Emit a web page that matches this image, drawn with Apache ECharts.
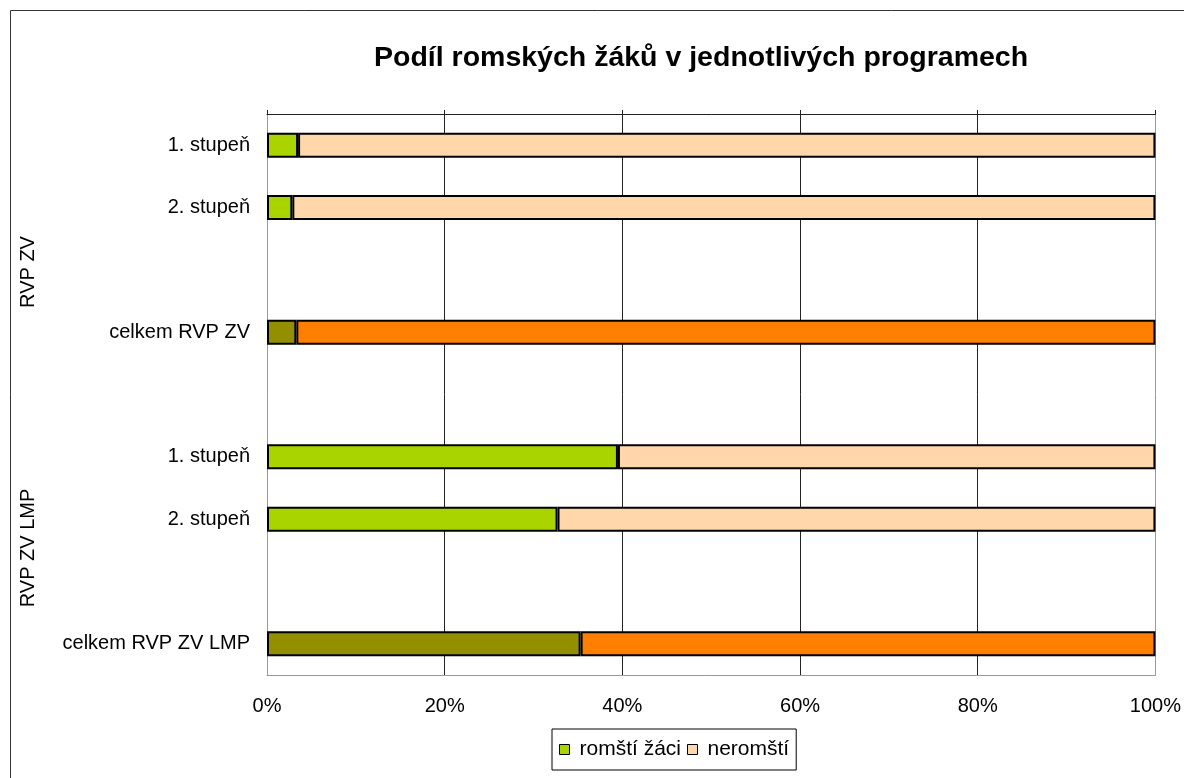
<!DOCTYPE html>
<html>
<head>
<meta charset="utf-8">
<title>Podíl romských žáků</title>
<script src="https://cdn.jsdelivr.net/npm/echarts@6/dist/echarts.min.js"></script>
<style>
  html, body { margin: 0; padding: 0; background: #fff; }
  #chart { width: 1184px; height: 778px; }
</style>
</head>
<body>
<div id="chart"></div>
<script>
  // rows top to bottom, '' = empty spacer row
  var categories = ['1. stupeň', '2. stupeň', '', 'celkem RVP ZV', '', '1. stupeň', '2. stupeň', '', 'celkem RVP ZV LMP'];
  var romsti   = [3.5, 2.85, '-', 3.3, '-', 39.5, 32.7, '-', 35.3];
  var neromsti = [96.5, 97.15, '-', 96.7, '-', 60.5, 67.3, '-', 64.7];
  var xTicks = [0, 20, 40, 60, 80, 100];
  var groupLabels = ['RVP ZV', 'RVP ZV LMP'];
  var seriesNames = ['romští žáci', 'neromští'];

  var FONT = "'Liberation Sans', Arial, sans-serif";
  var chart = echarts.init(document.getElementById('chart'));

  function coloured(values, normal, total) {
    return values.map(function (v, i) {
      var isTotal = categories[i].indexOf('celkem') === 0;
      return { value: v, itemStyle: { color: isTotal ? total : normal } };
    });
  }

  var option = {
    animation: false,
    backgroundColor: '#fff',
    textStyle: { fontFamily: FONT },
    title: {
      text: 'Podíl romských žáků v jednotlivých programech',
      left: 374,
      top: 44,
      padding: 0,
      textStyle: { fontFamily: FONT, fontSize: 28.5, fontWeight: 'bold', color: '#000' }
    },
    legend: {
      data: seriesNames,
      left: 552,
      top: 729,
      padding: [10, 7],
      borderColor: '#000',
      borderWidth: 1,
      itemWidth: 10,
      itemHeight: 10,
      itemGap: 6,
      icon: 'rect',
      itemStyle: { borderColor: '#000', borderWidth: 1 },
      textStyle: { fontFamily: FONT, fontSize: 21, color: '#000', padding: [0, 0, 0, 5] }
    },
    grid: { left: 267, right: 28, top: 114, bottom: 103 },
    xAxis: [
      {
        type: 'value',
        min: xTicks[0],
        max: xTicks[xTicks.length - 1],
        interval: xTicks[1] - xTicks[0],
        axisLine: { show: true, lineStyle: { color: '#999', width: 1 } },
        axisTick: { show: false },
        axisLabel: { margin: 21, fontSize: 20, color: '#000', fontFamily: FONT, formatter: '{value}%' },
        splitLine: { show: true, lineStyle: { color: ['#999', '#222', '#222', '#222', '#222', '#999'], width: 1 } }
      },
      {
        type: 'value',
        position: 'top',
        min: xTicks[0],
        max: xTicks[xTicks.length - 1],
        interval: xTicks[1] - xTicks[0],
        axisLine: { show: true, lineStyle: { color: '#222', width: 1 } },
        axisTick: { show: true, length: 4, lineStyle: { color: '#222' } },
        axisLabel: { show: false },
        splitLine: { show: false }
      }
    ],
    yAxis: {
      type: 'category',
      inverse: true,
      data: categories,
      axisLine: { show: true, lineStyle: { color: '#999', width: 1 } },
      axisTick: { show: false },
      axisLabel: { margin: 17, fontSize: 20, color: '#000', fontFamily: FONT },
      splitLine: { show: false }
    },
    series: [
      {
        name: seriesNames[0],
        type: 'bar',
        stack: 'all',
        barWidth: 25,
        itemStyle: { color: '#AAD400', borderColor: '#000', borderWidth: 2 },
        data: coloured(romsti, '#AAD400', '#938F00')
      },
      {
        name: seriesNames[1],
        type: 'bar',
        stack: 'all',
        barWidth: 25,
        itemStyle: { color: '#FFD7AA', borderColor: '#000', borderWidth: 2 },
        data: coloured(neromsti, '#FFD7AA', '#FF7F00')
      }
    ],
    graphic: [
      {
        type: 'rect',
        shape: { x: 10.5, y: 10.5, width: 1200, height: 800 },
        style: { fill: 'none', stroke: '#333', lineWidth: 1 },
        silent: true
      },
      {
        type: 'text',
        x: 28, y: 272,
        rotation: Math.PI / 2,
        style: { text: groupLabels[0], fontSize: 20, fontFamily: FONT, fill: '#000', align: 'center', verticalAlign: 'middle' }
      },
      {
        type: 'text',
        x: 28, y: 548,
        rotation: Math.PI / 2,
        style: { text: groupLabels[1], fontSize: 20, fontFamily: FONT, fill: '#000', align: 'center', verticalAlign: 'middle' }
      }
    ]
  };

  chart.setOption(option);
</script>
</body>
</html>
